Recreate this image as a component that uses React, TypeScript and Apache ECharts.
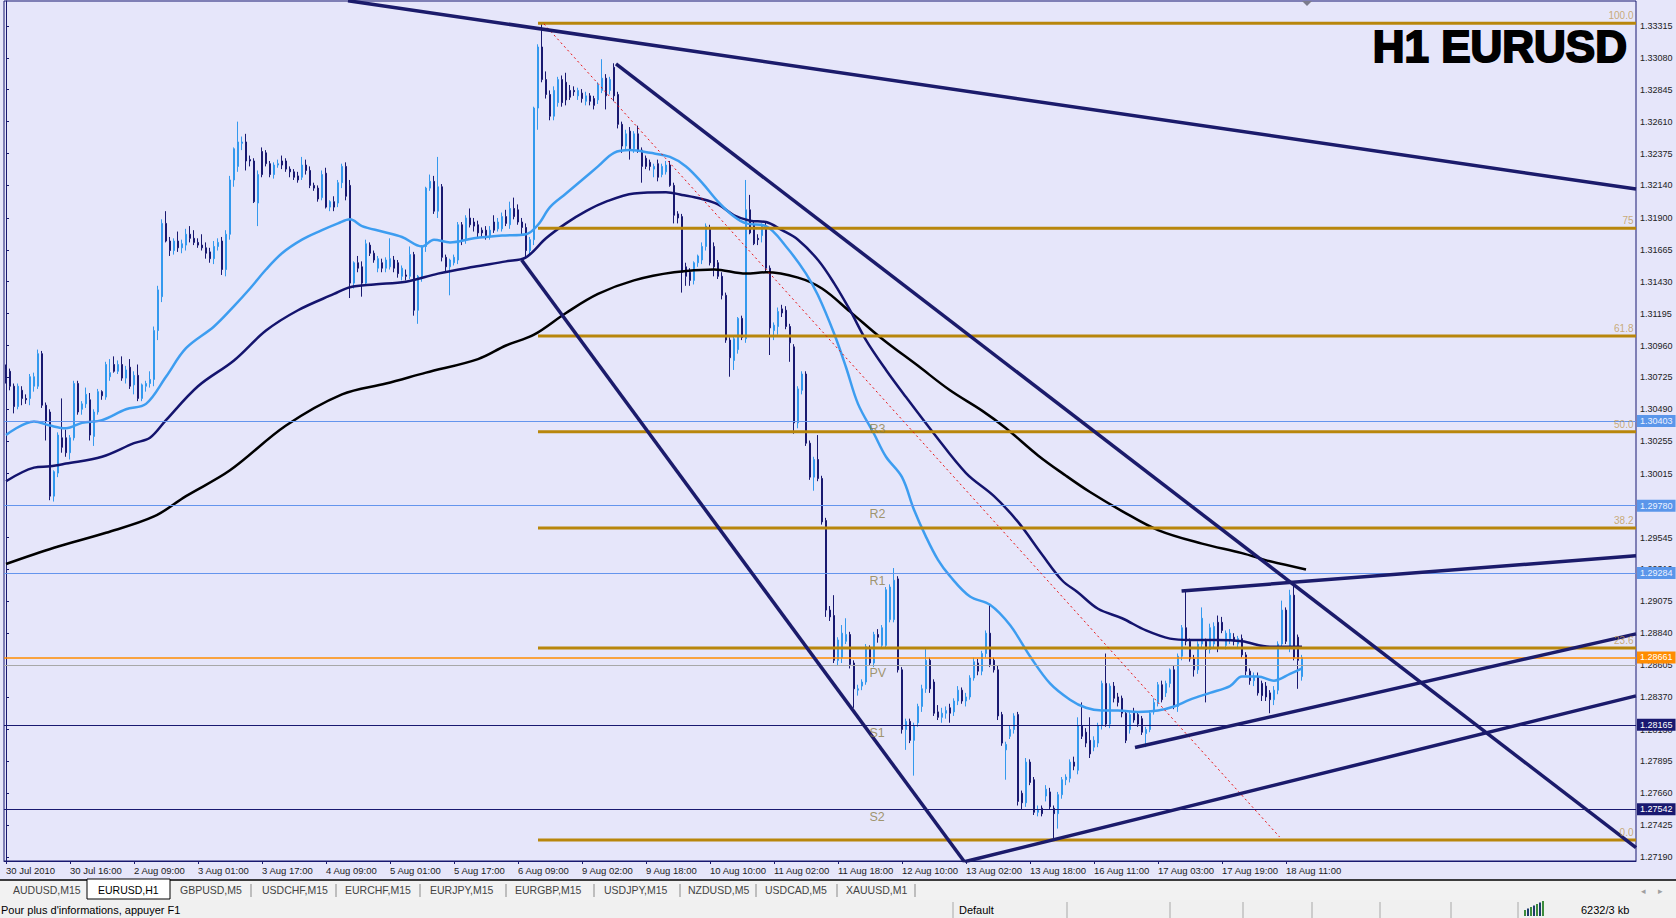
import React, { useEffect, useRef } from "react";
import * as echarts from "echarts";

// ---------- data ----------
const timeLabels = [
  "30 Jul 2010", "30 Jul 16:00", "2 Aug 09:00", "3 Aug 01:00", "3 Aug 17:00", "4 Aug 09:00",
  "5 Aug 01:00", "5 Aug 17:00", "6 Aug 09:00", "9 Aug 02:00", "9 Aug 18:00", "10 Aug 10:00",
  "11 Aug 02:00", "11 Aug 18:00", "12 Aug 10:00", "13 Aug 02:00", "13 Aug 18:00", "16 Aug 11:00",
  "17 Aug 03:00", "17 Aug 19:00", "18 Aug 11:00",
];
const barsPerLabel = 16;
const barSlots = 408;

// [open, high, low, close]
const candles: number[][] = [
  [1.3078,1.3082,1.3068,1.3072],[1.3077,1.3079,1.3063,1.3066],[1.3066,1.3068,1.3046,1.3051],[1.3051,1.3068,1.3049,1.3066],[1.3063,1.3066,1.3052,1.3057],
  [1.3057,1.3060,1.3053,1.3056],[1.3057,1.3075,1.3052,1.3073],[1.3066,1.3076,1.3062,1.3073],[1.3066,1.3093,1.3064,1.3090],[1.3090,1.3092,1.3050,1.3052],
  [1.3052,1.3054,1.3026,1.3040],[1.3047,1.3049,1.2982,1.2985],[1.2985,1.3004,1.2981,1.3003],[1.3002,1.3032,1.2999,1.3030],[1.3028,1.3057,1.3017,1.3021],
  [1.3028,1.3034,1.3014,1.3017],[1.3017,1.3030,1.3012,1.3028],[1.3028,1.3070,1.3026,1.3068],[1.3068,1.3070,1.3045,1.3047],[1.3049,1.3055,1.3045,1.3053],
  [1.3053,1.3065,1.3050,1.3060],[1.3056,1.3061,1.3026,1.3030],[1.3029,1.3049,1.3022,1.3047],[1.3047,1.3064,1.3045,1.3062],[1.3062,1.3063,1.3056,1.3059],
  [1.3058,1.3084,1.3056,1.3082],[1.3073,1.3086,1.3070,1.3076],[1.3082,1.3088,1.3076,1.3077],[1.3077,1.3085,1.3075,1.3082],[1.3082,1.3088,1.3070,1.3072],
  [1.3072,1.3081,1.3068,1.3078],[1.3080,1.3086,1.3064,1.3066],[1.3067,1.3077,1.3060,1.3074],[1.3074,1.3082,1.3055,1.3057],[1.3057,1.3068,1.3055,1.3067],
  [1.3066,1.3070,1.3062,1.3068],[1.3068,1.3077,1.3065,1.3071],[1.3071,1.3110,1.3066,1.3107],[1.3107,1.3140,1.3100,1.3137],[1.3132,1.3189,1.3128,1.3186],
  [1.3186,1.3195,1.3172,1.3173],[1.3173,1.3176,1.3162,1.3166],[1.3166,1.3175,1.3163,1.3173],[1.3173,1.3180,1.3165,1.3168],[1.3168,1.3174,1.3164,1.3171],
  [1.3170,1.3182,1.3166,1.3178],[1.3178,1.3184,1.3172,1.3175],[1.3175,1.3181,1.3170,1.3172],[1.3172,1.3175,1.3168,1.3170],[1.3170,1.3178,1.3166,1.3168],
  [1.3168,1.3172,1.3160,1.3164],[1.3165,1.3168,1.3157,1.3160],[1.3160,1.3173,1.3156,1.3169],[1.3169,1.3175,1.3166,1.3172],[1.3173,1.3176,1.3148,1.3152],
  [1.3152,1.3181,1.3147,1.3178],[1.3178,1.3221,1.3174,1.3218],[1.3218,1.3242,1.3213,1.3241],[1.3228,1.3261,1.3224,1.3246],[1.3245,1.3250,1.3240,1.3246],
  [1.3246,1.3252,1.3225,1.3232],[1.3233,1.3236,1.3228,1.3232],[1.3232,1.3234,1.3201,1.3202],[1.3201,1.3225,1.3184,1.3222],[1.3239,1.3242,1.3220,1.3222],
  [1.3238,1.3240,1.3228,1.3230],[1.3230,1.3232,1.3220,1.3222],[1.3222,1.3231,1.3219,1.3229],[1.3229,1.3233,1.3227,1.3230],[1.3232,1.3236,1.3226,1.3229],
  [1.3232,1.3234,1.3224,1.3226],[1.3226,1.3228,1.3220,1.3224],[1.3224,1.3226,1.3218,1.3220],[1.3221,1.3224,1.3216,1.3218],[1.3220,1.3235,1.3218,1.3229],
  [1.3229,1.3233,1.3222,1.3225],[1.3225,1.3228,1.3212,1.3214],[1.3214,1.3216,1.3210,1.3212],[1.3212,1.3214,1.3202,1.3204],[1.3205,1.3225,1.3203,1.3222],
  [1.3223,1.3227,1.3197,1.3198],[1.3198,1.3203,1.3195,1.3202],[1.3202,1.3206,1.3195,1.3198],[1.3201,1.3218,1.3198,1.3216],[1.3216,1.3230,1.3212,1.3228],
  [1.3228,1.3231,1.3203,1.3206],[1.3214,1.3218,1.3131,1.3142],[1.3142,1.3158,1.3138,1.3157],[1.3157,1.3162,1.3150,1.3153],[1.3154,1.3158,1.3132,1.3142],
  [1.3142,1.3174,1.3140,1.3171],[1.3170,1.3172,1.3162,1.3164],[1.3164,1.3166,1.3157,1.3159],[1.3153,1.3162,1.3150,1.3160],[1.3157,1.3160,1.3150,1.3153],
  [1.3153,1.3161,1.3150,1.3159],[1.3154,1.3175,1.3152,1.3160],[1.3159,1.3162,1.3150,1.3153],[1.3157,1.3159,1.3146,1.3149],[1.3147,1.3155,1.3144,1.3153],
  [1.3148,1.3152,1.3144,1.3147],[1.3147,1.3169,1.3145,1.3163],[1.3163,1.3165,1.3118,1.3122],[1.3122,1.3148,1.3112,1.3147],[1.3146,1.3170,1.3143,1.3169],
  [1.3169,1.3213,1.3165,1.3212],[1.3212,1.3222,1.3210,1.3217],[1.3217,1.3221,1.3193,1.3195],[1.3195,1.3235,1.3190,1.3213],[1.3213,1.3215,1.3158,1.3161],
  [1.3161,1.3163,1.3150,1.3154],[1.3154,1.3160,1.3133,1.3159],[1.3157,1.3163,1.3155,1.3161],[1.3159,1.3187,1.3156,1.3185],[1.3185,1.3187,1.3170,1.3174],
  [1.3174,1.3192,1.3171,1.3190],[1.3190,1.3197,1.3183,1.3185],[1.3187,1.3190,1.3180,1.3184],[1.3185,1.3188,1.3176,1.3179],[1.3181,1.3183,1.3176,1.3179],
  [1.3181,1.3184,1.3174,1.3177],[1.3176,1.3184,1.3174,1.3181],[1.3187,1.3192,1.3179,1.3181],[1.3182,1.3190,1.3180,1.3187],[1.3182,1.3194,1.3180,1.3191],
  [1.3191,1.3196,1.3184,1.3186],[1.3185,1.3202,1.3182,1.3197],[1.3197,1.3205,1.3189,1.3191],[1.3196,1.3200,1.3185,1.3187],[1.3187,1.3190,1.3178,1.3183],
  [1.3183,1.3186,1.3160,1.3166],[1.3166,1.3176,1.3163,1.3174],[1.3174,1.3272,1.3170,1.3271],[1.3271,1.3318,1.3255,1.3316],[1.3316,1.3333,1.3290,1.3292],
  [1.3292,1.3298,1.3278,1.3281],[1.3281,1.3284,1.3262,1.3265],[1.3265,1.3287,1.3262,1.3284],[1.3275,1.3294,1.3272,1.3292],[1.3292,1.3295,1.3272,1.3275],
  [1.3290,1.3297,1.3273,1.3277],[1.3284,1.3288,1.3277,1.3279],[1.3284,1.3287,1.3280,1.3283],[1.3280,1.3286,1.3277,1.3284],[1.3282,1.3285,1.3275,1.3278],
  [1.3276,1.3283,1.3273,1.3280],[1.3280,1.3282,1.3273,1.3276],[1.3278,1.3280,1.3270,1.3273],[1.3277,1.3290,1.3274,1.3288],[1.3284,1.3307,1.3282,1.3293],
  [1.3293,1.3296,1.3270,1.3280],[1.3284,1.3294,1.3281,1.3292],[1.3301,1.3304,1.3276,1.3280],[1.3281,1.3283,1.3256,1.3259],[1.3259,1.3261,1.3238,1.3243],
  [1.3243,1.3255,1.3240,1.3252],[1.3254,1.3257,1.3233,1.3240],[1.3241,1.3254,1.3238,1.3252],[1.3252,1.3258,1.3238,1.3240],[1.3240,1.3242,1.3216,1.3228],
  [1.3234,1.3236,1.3226,1.3228],[1.3231,1.3233,1.3225,1.3228],[1.3226,1.3230,1.3220,1.3228],[1.3230,1.3233,1.3217,1.3220],[1.3222,1.3230,1.3220,1.3228],
  [1.3224,1.3232,1.3222,1.3229],[1.3229,1.3232,1.3213,1.3214],[1.3214,1.3216,1.3186,1.3192],[1.3193,1.3195,1.3186,1.3190],[1.3191,1.3193,1.3135,1.3150],
  [1.3154,1.3157,1.3140,1.3147],[1.3150,1.3153,1.3140,1.3144],[1.3144,1.3158,1.3141,1.3157],[1.3157,1.3163,1.3154,1.3162],[1.3159,1.3172,1.3156,1.3169],
  [1.3169,1.3186,1.3166,1.3184],[1.3182,1.3185,1.3155,1.3157],[1.3169,1.3172,1.3147,1.3154],[1.3157,1.3159,1.3145,1.3147],[1.3147,1.3150,1.3130,1.3133],
  [1.3133,1.3135,1.3098,1.3100],[1.3100,1.3102,1.3073,1.3087],[1.3085,1.3103,1.3078,1.3101],[1.3093,1.3117,1.3090,1.3116],[1.3116,1.3118,1.3100,1.3102],
  [1.3101,1.3218,1.3098,1.3196],[1.3196,1.3207,1.3178,1.3179],[1.3185,1.3188,1.3170,1.3171],[1.3175,1.3178,1.3170,1.3174],[1.3177,1.3186,1.3172,1.3184],
  [1.3184,1.3187,1.3150,1.3153],[1.3153,1.3155,1.3089,1.3109],[1.3107,1.3113,1.3100,1.3111],[1.3110,1.3124,1.3104,1.3121],[1.3123,1.3126,1.3117,1.3120],
  [1.3122,1.3125,1.3108,1.3110],[1.3110,1.3112,1.3084,1.3098],[1.3095,1.3097,1.3031,1.3039],[1.3039,1.3066,1.3035,1.3064],[1.3063,1.3077,1.3060,1.3075],
  [1.3075,1.3077,1.3022,1.3024],[1.3024,1.3026,1.2997,1.2999],[1.2999,1.3014,1.2989,1.3012],[1.3012,1.3030,1.2996,1.2998],[1.2998,1.3000,1.2964,1.2966],
  [1.2967,1.2969,1.2896,1.2901],[1.2901,1.2904,1.2893,1.2896],[1.2897,1.2912,1.2862,1.2864],[1.2864,1.2881,1.2860,1.2879],[1.2866,1.2890,1.2862,1.2884],
  [1.2878,1.2895,1.2876,1.2883],[1.2883,1.2885,1.2858,1.2861],[1.2862,1.2864,1.2829,1.2843],[1.2842,1.2846,1.2838,1.2843],[1.2845,1.2850,1.2842,1.2848],
  [1.2848,1.2876,1.2846,1.2874],[1.2873,1.2875,1.2860,1.2862],[1.2862,1.2885,1.2859,1.2883],[1.2883,1.2887,1.2877,1.2881],[1.2875,1.2890,1.2873,1.2888],
  [1.2875,1.2918,1.2873,1.2916],[1.2894,1.2920,1.2892,1.2918],[1.2894,1.2932,1.2892,1.2923],[1.2924,1.2926,1.2855,1.2857],[1.2857,1.2859,1.2810,1.2813],
  [1.2813,1.2821,1.2798,1.2819],[1.2819,1.2821,1.2803,1.2805],[1.2805,1.2818,1.2779,1.2816],[1.2818,1.2832,1.2815,1.2830],[1.2830,1.2846,1.2826,1.2843],
  [1.2843,1.2873,1.2840,1.2864],[1.2864,1.2866,1.2840,1.2843],[1.2848,1.2850,1.2823,1.2825],[1.2826,1.2831,1.2820,1.2822],[1.2822,1.2829,1.2818,1.2825],
  [1.2825,1.2830,1.2821,1.2827],[1.2829,1.2832,1.2818,1.2825],[1.2826,1.2836,1.2823,1.2834],[1.2834,1.2845,1.2831,1.2842],[1.2842,1.2844,1.2832,1.2834],
  [1.2834,1.2840,1.2830,1.2837],[1.2837,1.2853,1.2835,1.2851],[1.2851,1.2866,1.2849,1.2863],[1.2862,1.2865,1.2853,1.2856],[1.2856,1.2871,1.2853,1.2869],
  [1.2869,1.2886,1.2866,1.2884],[1.2884,1.2905,1.2859,1.2861],[1.2864,1.2866,1.2855,1.2857],[1.2857,1.2860,1.2820,1.2823],[1.2824,1.2826,1.2801,1.2803],
  [1.2798,1.2804,1.2776,1.2802],[1.2808,1.2816,1.2806,1.2813],[1.2813,1.2825,1.2810,1.2823],[1.2824,1.2826,1.2757,1.2760],[1.2766,1.2768,1.2754,1.2759],
  [1.2759,1.2792,1.2756,1.2789],[1.2789,1.2791,1.2772,1.2774],[1.2776,1.2778,1.2750,1.2752],[1.2752,1.2757,1.2749,1.2754],[1.2755,1.2757,1.2749,1.2751],
  [1.2764,1.2772,1.2760,1.2769],[1.2767,1.2770,1.2754,1.2756],[1.2755,1.2757,1.2733,1.2751],[1.2751,1.2767,1.2740,1.2765],[1.2765,1.2778,1.2762,1.2776],
  [1.2776,1.2780,1.2772,1.2778],[1.2777,1.2791,1.2774,1.2789],[1.2789,1.2793,1.2783,1.2786],[1.2783,1.2822,1.2780,1.2816],[1.2816,1.2833,1.2806,1.2808],
  [1.2811,1.2814,1.2800,1.2803],[1.2805,1.2822,1.2792,1.2795],[1.2800,1.2808,1.2797,1.2805],[1.2803,1.2818,1.2800,1.2816],[1.2816,1.2849,1.2813,1.2847],
  [1.2847,1.2869,1.2815,1.2817],[1.2817,1.2847,1.2814,1.2845],[1.2845,1.2848,1.2833,1.2836],[1.2837,1.2840,1.2830,1.2833],[1.2836,1.2838,1.2822,1.2825],
  [1.2825,1.2827,1.2803,1.2805],[1.2813,1.2826,1.2810,1.2824],[1.2825,1.2829,1.2818,1.2820],[1.2824,1.2826,1.2815,1.2817],[1.2821,1.2823,1.2809,1.2811],
  [1.2810,1.2815,1.2800,1.2813],[1.2813,1.2827,1.2811,1.2825],[1.2826,1.2836,1.2824,1.2833],[1.2833,1.2848,1.2830,1.2846],[1.2846,1.2849,1.2833,1.2835],
  [1.2840,1.2849,1.2837,1.2847],[1.2847,1.2858,1.2844,1.2857],[1.2857,1.2860,1.2828,1.2830],[1.2830,1.2869,1.2826,1.2867],[1.2867,1.2890,1.2864,1.2888],
  [1.2888,1.2915,1.2875,1.2878],[1.2878,1.2880,1.2863,1.2865],[1.2865,1.2868,1.2852,1.2857],[1.2857,1.2878,1.2854,1.2876],[1.2876,1.2903,1.2873,1.2895],
  [1.2878,1.2880,1.2833,1.2872],[1.2872,1.2891,1.2869,1.2888],[1.2876,1.2892,1.2873,1.2889],[1.2892,1.2897,1.2870,1.2874],[1.2892,1.2896,1.2884,1.2886],
  [1.2875,1.2886,1.2872,1.2884],[1.2879,1.2887,1.2876,1.2884],[1.2881,1.2884,1.2875,1.2878],[1.2876,1.2882,1.2873,1.2880],[1.2880,1.2883,1.2866,1.2868],
  [1.2868,1.2870,1.2853,1.2856],[1.2856,1.2858,1.2846,1.2849],[1.2849,1.2855,1.2845,1.2852],[1.2852,1.2855,1.2838,1.2840],[1.2847,1.2849,1.2834,1.2838],
  [1.2845,1.2848,1.2834,1.2837],[1.2840,1.2842,1.2825,1.2835],[1.2835,1.2845,1.2831,1.2842],[1.2842,1.2878,1.2839,1.2876],[1.2876,1.2908,1.2873,1.2901],
  [1.2901,1.2903,1.2876,1.2878],[1.2873,1.2916,1.2870,1.2912],[1.2912,1.2922,1.2864,1.2866],[1.2881,1.2883,1.2843,1.2864],[1.2852,1.2868,1.2849,1.2866],
];

const yTickValues = [
  1.33315, 1.3308, 1.32845, 1.3261, 1.32375, 1.3214, 1.319, 1.31665, 1.3143, 1.31195, 1.3096, 1.30725, 1.3049, 1.30255,
  1.30015, 1.2978, 1.29545, 1.2931, 1.29075, 1.2884, 1.28605, 1.2837, 1.2813, 1.27895, 1.2766, 1.27425, 1.2719,
];

// moving averages: [bar, price]
const fastMA = [
  [0,1.3030],[7,1.3040],[11,1.3037],[15,1.3035],[19,1.3039],[24,1.3041],[30,1.3049],[35,1.3053],[40,1.3073],[45,1.3094],
  [52,1.3110],[57,1.3125],[61,1.3138],[65,1.3152],[69,1.3164],[74,1.3174],[79,1.3181],[83,1.3186],[86,1.3189],[89,1.3184],
  [94,1.3180],[99,1.3176],[104,1.3169],[107,1.3174],[111,1.3172],[117,1.3175],[124,1.3177],[130,1.3178],[133,1.3185],[136,1.3198],
  [140,1.3208],[144,1.3218],[148,1.3228],[152,1.3238],[156,1.3240],[161,1.3238],[166,1.3235],[170,1.3228],[174,1.3216],[178,1.3202],
  [182,1.3191],[185,1.3186],[190,1.3184],[195,1.3169],[200,1.3149],[203,1.3133],[207,1.3105],[210,1.3080],[213,1.3053],[217,1.3031],
  [220,1.3014],[224,1.2999],[227,1.2975],[230,1.2955],[233,1.2938],[236,1.2926],[241,1.2911],[246,1.2905],[251,1.2890],[256,1.2867],
  [261,1.2847],[266,1.2835],[270,1.2829],[274,1.2827],[278,1.2827],[283,1.2826],[288,1.2827],[292,1.2830],[296,1.2835],[301,1.2840],
  [306,1.2845],[309,1.2852],[313,1.2852],[317,1.2849],[321,1.2854],[324,1.2858],
];
const midMA = [
  [0,1.2996],[7,1.3006],[11,1.3007],[15,1.3009],[24,1.3014],[32,1.3024],[36,1.3028],[40,1.3041],[48,1.3066],[57,1.3085],
  [65,1.3107],[73,1.3122],[82,1.3134],[86,1.3139],[92,1.3141],[100,1.3143],[108,1.3149],[117,1.3154],[125,1.3158],[130,1.3161],
  [135,1.3175],[140,1.3186],[145,1.3195],[150,1.3202],[157,1.3208],[165,1.3209],[169,1.3207],[174,1.3204],[178,1.3200],[182,1.3192],
  [186,1.3188],[190,1.3187],[194,1.3181],[198,1.3174],[203,1.3159],[207,1.3142],[211,1.3122],[215,1.3100],[220,1.3078],[225,1.3058],
  [232,1.3031],[240,1.3002],[247,1.2985],[253,1.2966],[259,1.2942],[264,1.2923],[268,1.2914],[273,1.2902],[279,1.2895],[285,1.2886],
  [291,1.2880],[296,1.2879],[303,1.2879],[309,1.2878],[316,1.2874],[320,1.2874],[324,1.2874],
];
const slowMA = [
  [0,1.2935],[12,1.2947],[25,1.2958],[37,1.2970],[45,1.2985],[56,1.3004],[70,1.3037],[84,1.3060],[95,1.3068],[105,1.3076],
  [118,1.3086],[125,1.3096],[132,1.3104],[140,1.3120],[148,1.3134],[157,1.3144],[167,1.3150],[177,1.3152],[185,1.3149],[190,1.3150],
  [198,1.3146],[204,1.3138],[211,1.3121],[219,1.3101],[228,1.3081],[236,1.3063],[244,1.3048],[250,1.3035],[258,1.3015],[265,1.3000],
  [271,1.2988],[279,1.2974],[288,1.2960],[299,1.2950],[309,1.2943],[316,1.2937],[325,1.2931],
];

const fibNames = ["100.0", "75", "61.8", "50.0", "38.2", "23.6", "0.0"];
const fibPrices = [1.33335, 1.31825, 1.3103, 1.30325, 1.29615, 1.2873, 1.27316];
const fibStartBar = 133;

// trend lines: [[bar, price], [bar, price]]
const trendLines = [
  [[85.5, 1.33501], [407.5, 1.32113]],
  [[152.5, 1.33035], [407.5, 1.27259]],
  [[128.9, 1.3159], [239.6, 1.27155]],
  [[239.6, 1.27155], [407.5, 1.28378]],
  [[282.25, 1.27997], [407.5, 1.28835]],
  [[293.9, 1.29151], [407.5, 1.29411]],
];
const fibTrendLine = [[134.5, 1.3333], [318.4, 1.27338]];

const levelPrices = [1.30403, 1.2978, 1.29284, 1.28661, 1.28605, 1.28165, 1.27542];
const levelKinds = ["blue", "blue", "blue", "orange", "gray", "navy", "navy"];
const pivotNames = ["R3", "R2", "R1", "PV", "S1", "S2"];
const pivotPrices = [1.30403, 1.2978, 1.29284, 1.28605, 1.28165, 1.27542];
const pivotLabelBar = 216;

const tabNames = ["AUDUSD,M15", "EURUSD,H1", "GBPUSD,M5", "USDCHF,M15", "EURCHF,M15", "EURJPY,M15", "EURGBP,M15", "USDJPY,M15", "NZDUSD,M5", "USDCAD,M5", "XAUUSD,M1"];

// ---------- style ----------
const FONT = "'Liberation Sans', Arial, sans-serif";
const LAV = "#E6E6FA";
const NAVY = "#191970";
const BULL = "#3399EE";
const TREND = "#1B1B6B";
const FIB = "#B8860B";

const tabX = [13, 98, 180, 262, 345, 430, 515, 604, 688, 765, 846];
const tabSeps = [251, 336, 420, 506, 594, 680, 756, 837, 915];
const statusSeps = [953, 1067, 1170, 1243, 1312, 1380, 1451, 1518];

export default function App() {
  const ref = useRef<HTMLDivElement>(null);
  useEffect(() => {
    if (!ref.current) return;
    const chart = echarts.init(ref.current, undefined, { renderer: "svg" });
    const cats: string[] = [];
    for (let i = 0; i < barSlots; i++) {
      const k = i / barsPerLabel;
      cats.push(i % barsPerLabel === 0 && k < timeLabels.length ? timeLabels[k] : "");
    }
    const showIdx = (i: number) => i % barsPerLabel === 0 && i / barsPerLabel < timeLabels.length;

    const levelStyle: Record<string, any> = {
      blue: { line: "#6495ED", box: "#5A96EA", text: "#EEF2FF" },
      orange: { line: "#FF8C00", box: "#FF8C00", text: "#FFFFFF" },
      gray: { line: "#A8A8A8", box: null, text: "" },
      navy: { line: NAVY, box: NAVY, text: "#FFFFFF" },
    };

    const series: any[] = [];
    series.push({
      type: "candlestick",
      xAxisIndex: 0,
      yAxisIndex: 0,
      data: candles.map(([o, h, l, c]) => [o, c, l, h]),
      barWidth: 2,
      itemStyle: { color: BULL, color0: NAVY, borderColor: BULL, borderColor0: NAVY, borderWidth: 1 },
      z: 2,
      silent: true,
      markLine: {
        silent: true,
        symbol: ["none", "none"],
        animation: false,
        precision: 6,
        data: levelPrices.map((p, i) => {
          const st = levelStyle[levelKinds[i]];
          return {
            yAxis: p,
            lineStyle: { color: st.line, width: levelKinds[i] === "orange" ? 1.5 : 1, type: "solid" },
            label: st.box
              ? {
                  show: true, position: "end", distance: 1, formatter: p.toFixed(5),
                  color: st.text, backgroundColor: st.box, padding: [2, 3, 1, 3],
                  fontSize: 9, fontFamily: FONT,
                }
              : { show: false },
          };
        }),
      },
    });
    const maLine = (data: number[][], color: string, width: number) => ({
      type: "line", xAxisIndex: 1, yAxisIndex: 0, data, showSymbol: false, smooth: 0.35,
      lineStyle: { color, width }, silent: true, z: 3,
    });
    series.push(maLine(slowMA, "#000000", 2.5));
    series.push(maLine(midMA, "#14146E", 2.5));
    series.push(maLine(fastMA, "#3D9DF0", 2.5));
    fibPrices.forEach((p) => {
      series.push({
        type: "line", xAxisIndex: 1, yAxisIndex: 0, data: [[fibStartBar, p], [barSlots - 0.5, p]],
        showSymbol: false, lineStyle: { color: FIB, width: 3 }, silent: true, z: 4,
      });
    });
    series.push({
      type: "scatter", xAxisIndex: 1, yAxisIndex: 0,
      data: fibPrices.map((p) => [barSlots - 0.5, p]),
      symbolSize: 1, itemStyle: { color: "rgba(0,0,0,0)" }, silent: true, z: 6,
      label: {
        show: true, position: [-2, -2], align: "right", verticalAlign: "bottom",
        formatter: (prm: any) => fibNames[prm.dataIndex], fontSize: 10, color: "#C09A55", fontFamily: FONT,
      },
    });
    series.push({
      type: "line", xAxisIndex: 1, yAxisIndex: 0, data: fibTrendLine, showSymbol: false,
      lineStyle: { color: "#E81010", width: 1, type: [2, 3] }, silent: true, z: 5,
    });
    trendLines.forEach((tl) => {
      series.push({
        type: "line", xAxisIndex: 1, yAxisIndex: 0, data: tl, showSymbol: false,
        lineStyle: { color: TREND, width: 3.5 }, silent: true, z: 5,
      });
    });
    series.push({
      type: "scatter", xAxisIndex: 1, yAxisIndex: 0,
      data: pivotPrices.map((p) => [pivotLabelBar, p]),
      symbolSize: 1, itemStyle: { color: "rgba(0,0,0,0)" }, silent: true, z: 6,
      label: {
        show: true, position: [0, 2], align: "left", verticalAlign: "top",
        formatter: (prm: any) => pivotNames[prm.dataIndex], fontSize: 12.5, color: "#8C7E48", fontFamily: FONT,
      },
    });

    const g: any[] = [];
    g.push({ type: "text", x: 1627, y: 46, z: 60, style: { text: "H1 EURUSD", fontSize: 44, fontWeight: "bold", fontFamily: FONT, fill: "#000", stroke: "#000", lineWidth: 2, align: "right", verticalAlign: "middle" } });
    g.push({ type: "polygon", z: 60, shape: { points: [[1302, 1], [1312, 1], [1307, 6]] }, style: { fill: "#7C7C8C" } });
    // tab bar
    g.push({ type: "rect", z: 50, shape: { x: 0, y: 880, width: 1676, height: 20 }, style: { fill: "#F2F2F2" } });
    g.push({ type: "line", z: 51, shape: { x1: 0, y1: 880, x2: 1676, y2: 880 }, style: { stroke: "#000", lineWidth: 1.5 } });
    g.push({ type: "rect", z: 52, shape: { x: 87, y: 879, width: 83, height: 20 }, style: { fill: "#FFFFFF", stroke: "#000", lineWidth: 1 } });
    tabNames.forEach((t, i) => {
      g.push({ type: "text", z: 53, x: tabX[i], y: 890, style: { text: t, fontSize: 10.5, fontFamily: FONT, fill: i === 1 ? "#000" : "#444", verticalAlign: "middle" } });
    });
    tabSeps.forEach((x) => {
      g.push({ type: "line", z: 53, shape: { x1: x, y1: 884, x2: x, y2: 897 }, style: { stroke: "#8A8A8A", lineWidth: 1 } });
    });
    g.push({ type: "text", z: 53, x: 1641, y: 891, style: { text: "◂", fontSize: 9, fill: "#A0A0A0", verticalAlign: "middle", fontFamily: "DejaVu Sans" } });
    g.push({ type: "text", z: 53, x: 1658, y: 891, style: { text: "▸", fontSize: 9, fill: "#A0A0A0", verticalAlign: "middle", fontFamily: "DejaVu Sans" } });
    // status bar
    g.push({ type: "rect", z: 50, shape: { x: 0, y: 900, width: 1676, height: 18 }, style: { fill: "#F0F0F0" } });
    g.push({ type: "text", z: 53, x: 1, y: 910, style: { text: "Pour plus d'informations, appuyer F1", fontSize: 11, fontFamily: FONT, fill: "#000", verticalAlign: "middle" } });
    statusSeps.forEach((x) => {
      g.push({ type: "line", z: 53, shape: { x1: x, y1: 902, x2: x, y2: 918 }, style: { stroke: "#A8A8A8", lineWidth: 1 } });
    });
    g.push({ type: "text", z: 53, x: 959, y: 910, style: { text: "Default", fontSize: 11, fontFamily: FONT, fill: "#000", verticalAlign: "middle" } });
    for (let k = 0; k < 7; k++) {
      const h = 6 + k * 1.5;
      g.push({ type: "rect", z: 53, shape: { x: 1524 + k * 3, y: 916 - h, width: 2, height: h }, style: { fill: k % 2 === 0 ? "#3C8C3C" : "#1E3C6E" } });
    }
    g.push({ type: "text", z: 53, x: 1581, y: 910, style: { text: "6232/3 kb", fontSize: 11, fontFamily: FONT, fill: "#000", verticalAlign: "middle" } });

    chart.setOption({
      animation: false,
      backgroundColor: LAV,
      textStyle: { fontFamily: FONT },
      grid: { left: 4, right: 40, top: 1, bottom: 57, show: true, borderColor: NAVY, borderWidth: 1, backgroundColor: "transparent" },
      xAxis: [
        {
          type: "category", data: cats, boundaryGap: true, gridIndex: 0,
          axisLine: { show: true, lineStyle: { color: NAVY, width: 1 } },
          axisTick: { show: true, alignWithLabel: true, interval: showIdx, length: 3, lineStyle: { color: NAVY } },
          axisLabel: { interval: showIdx, align: "left", fontSize: 9.5, color: "#1A1A1A", margin: 4, fontFamily: FONT },
          splitLine: { show: false },
        },
        { type: "value", min: -0.5, max: barSlots - 0.5, show: false, gridIndex: 0, splitLine: { show: false } },
      ],
      yAxis: {
        type: "value", position: "right", min: 1.27161, max: 1.33499, scale: true,
        axisLine: { show: true, lineStyle: { color: NAVY } },
        axisTick: { show: true, customValues: yTickValues, length: 3, lineStyle: { color: NAVY } },
        axisLabel: { customValues: yTickValues, formatter: (v: number) => v.toFixed(5), fontSize: 9, color: "#222", margin: 4, fontFamily: FONT },
        splitLine: { show: false },
      },
      series,
      graphic: g,
    });
    return () => chart.dispose();
  }, []);
  return <div ref={ref} style={{ position: "fixed", left: 0, top: 0, width: 1676, height: 918 }} />;
}
